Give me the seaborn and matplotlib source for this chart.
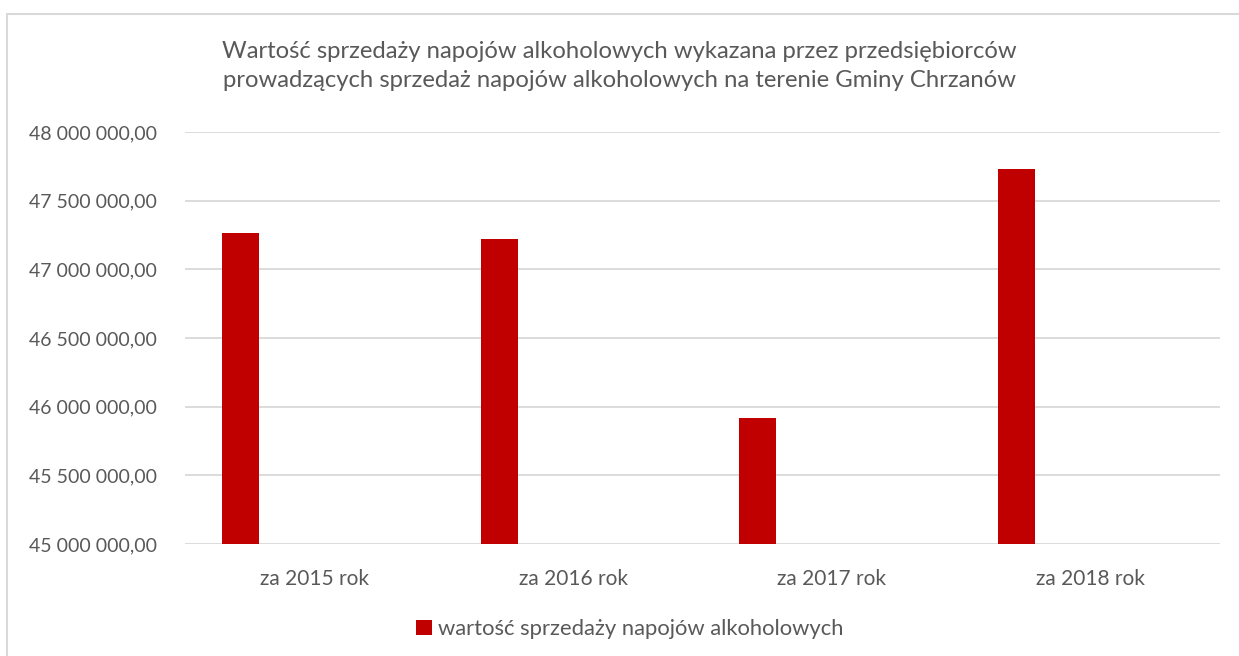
import matplotlib
matplotlib.use("Agg")
import matplotlib.pyplot as plt
from matplotlib.patches import Rectangle, Patch
from matplotlib.ticker import FuncFormatter, MultipleLocator
import pandas as pd
import seaborn as sns

# data
years = ["za 2015 rok", "za 2016 rok", "za 2017 rok", "za 2018 rok"]
sales = [47264000, 47218000, 45915000, 47728000]
series_name = "wartość sprzedaży napojów alkoholowych"
title = ("Wartość sprzedaży napojów alkoholowych wykazana przez przedsiębiorców\n"
         "prowadzących sprzedaż napojów alkoholowych na terenie Gminy Chrzanów")

BAR = "#C00000"
TXT = "#595959"
GRID = "#D9D9D9"

sns.set_style("white")
plt.rcParams["font.family"] = ["Lato", "DejaVu Sans"]

df = pd.DataFrame({"rok": years, "wartosc": sales, "seria": series_name})

fig = plt.figure(figsize=(12.39, 6.56), dpi=100)
ax = fig.add_axes([185 / 1239, 1 - 544 / 656, (1220 - 185) / 1239, (544 - 132) / 656])

# extra empty hue slots reproduce the Excel cluster, where the bar sits left of centre
slots = [series_name, "_s2", "_s3", "_s4", "_s5"]
sns.barplot(data=df, x="rok", y="wartosc", hue="seria", hue_order=slots, dodge=True,
            palette={s: BAR for s in slots}, width=0.715, legend=False, ax=ax,
            saturation=1, edgecolor="none")

ax.set_ylim(45000000, 48000000)
ax.yaxis.set_major_locator(MultipleLocator(500000))
ax.yaxis.set_major_formatter(FuncFormatter(
    lambda v, p: f"{v:,.2f}".replace(",", " ").replace(".", ",")))
ax.grid(axis="y", color=GRID, linewidth=1.3)
ax.set_axisbelow(True)
for s in ax.spines.values():
    s.set_visible(False)
ax.tick_params(axis="both", length=0, colors=TXT)
ax.tick_params(axis="y", pad=20, labelsize=14)
ax.tick_params(axis="x", pad=18, labelsize=15)
ax.set_xlabel("")
ax.set_ylabel("")

fig.text(0.5, 1 - 66 / 656, title, ha="center", va="center", fontsize=17.2,
         color=TXT, linespacing=1.5)

handle = Patch(facecolor=BAR, edgecolor="none")
fig.legend([handle], [series_name], loc="center", bbox_to_anchor=(630 / 1239, 1 - 629 / 656),
           frameon=False, fontsize=15.8, labelcolor=TXT, handlelength=0.7, handleheight=0.7,
           handletextpad=0.3)

# chart area border, partly cut off by the image edge
fig.patches.append(Rectangle((7 / 1239, -0.1), 1.1, 1 - 13.5 / 656 + 0.1, transform=fig.transFigure,
                             fill=False, edgecolor=GRID, linewidth=1.5))

fig.savefig("out.png", dpi=100)
